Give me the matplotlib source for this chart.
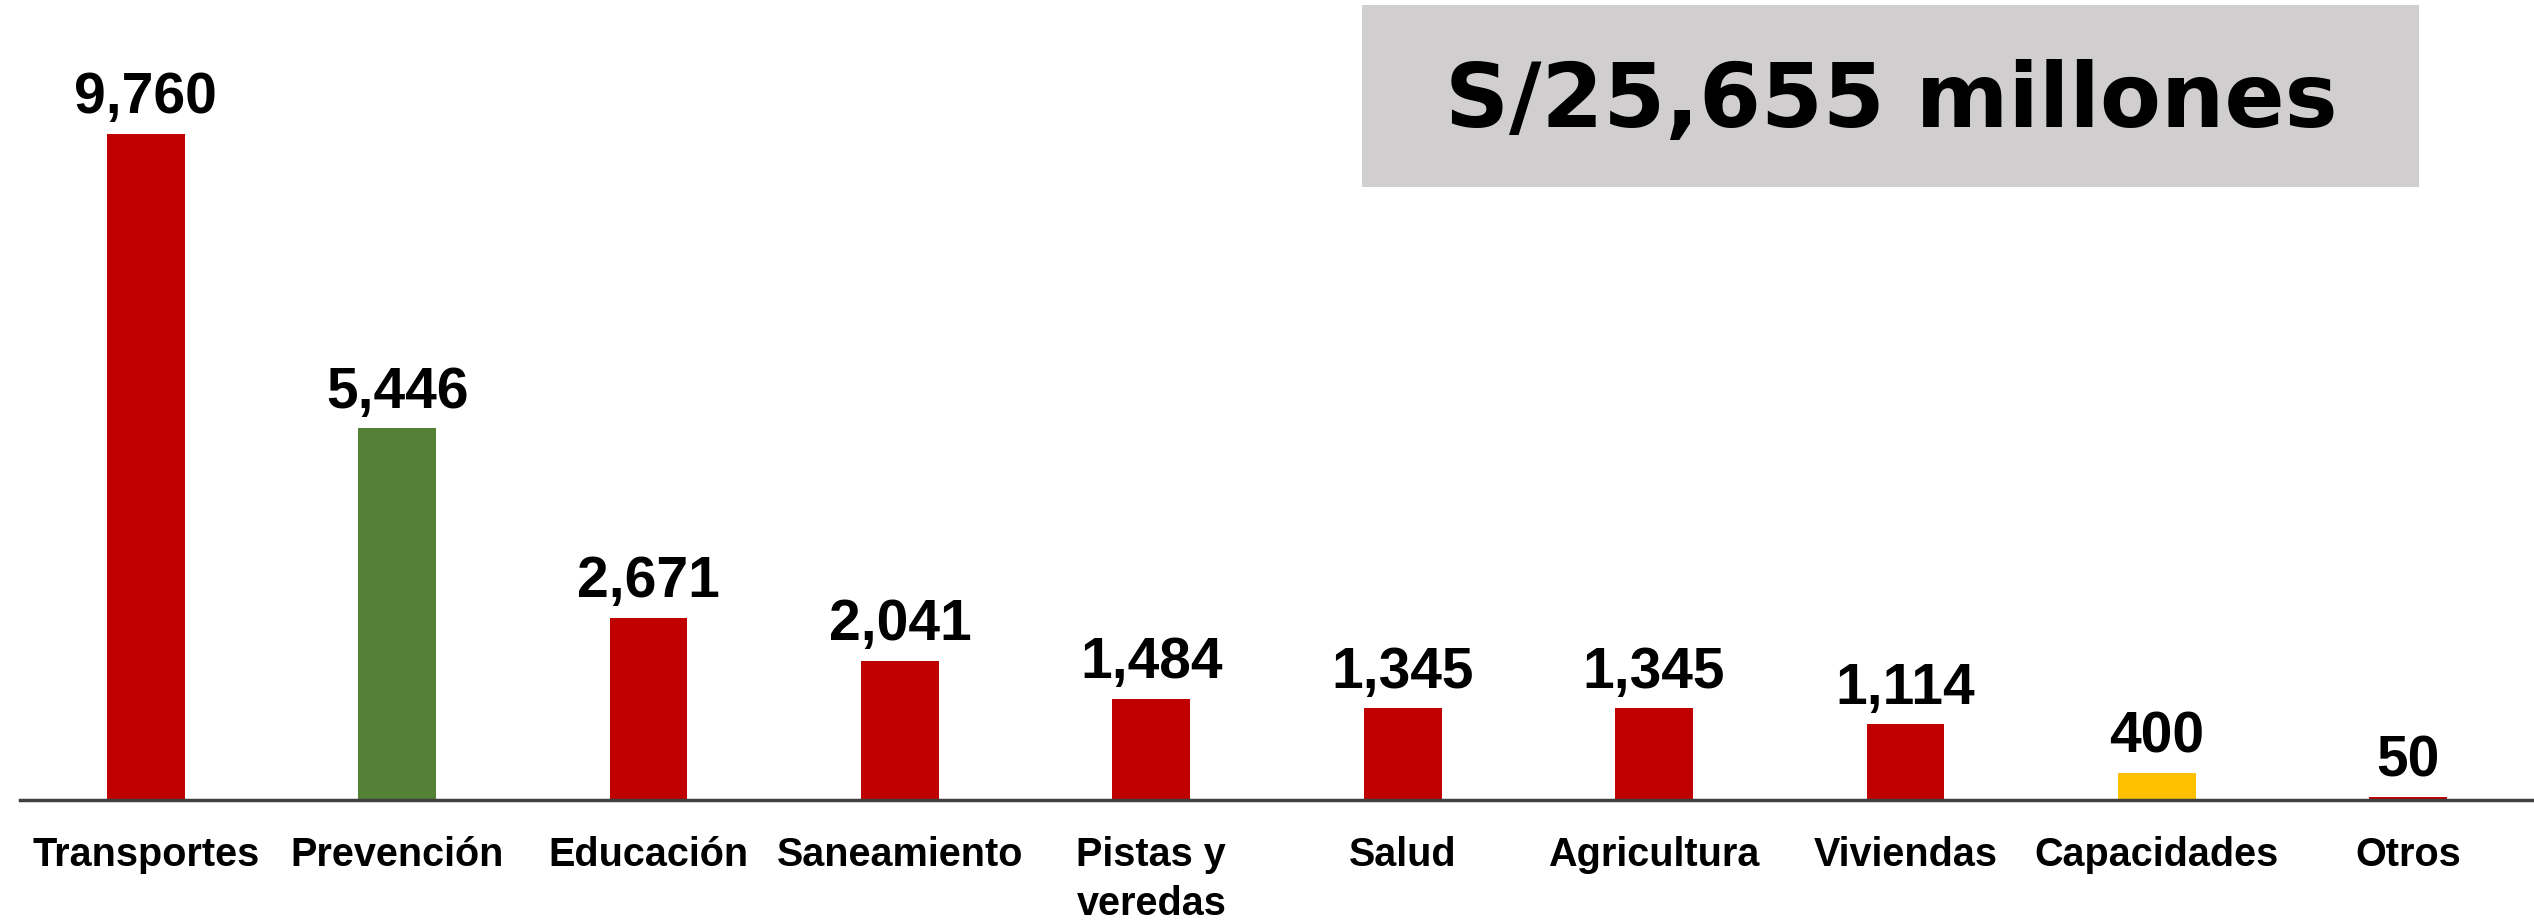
import matplotlib.pyplot as plt
from matplotlib.patches import Rectangle

# data
sectores = ["Transportes", "Prevención", "Educación", "Saneamiento", "Pistas y\nveredas",
            "Salud", "Agricultura", "Viviendas", "Capacidades", "Otros"]
montos = [9760, 5446, 2671, 2041, 1484, 1345, 1345, 1114, 400, 50]
total_txt = "S/25,655 millones"

rojo, verde, amarillo = "#C00000", "#538135", "#FFC000"
colores = [rojo, verde, rojo, rojo, rojo, rojo, rojo, rojo, amarillo, rojo]

fig = plt.figure(figsize=(25.34, 9.23), dpi=100)
ax = fig.add_axes([20 / 2534, 123 / 923, 1 - 20 / 2534, 800 / 923])

x = range(len(sectores))
bars = ax.bar(x, montos, width=0.31, color=colores)

for b, v in zip(bars, montos):
    ax.text(b.get_x() + b.get_width() / 2, v + 300, f"{v:,}",
            ha="center", va="baseline", fontsize=41, fontweight="bold",
            family="Liberation Sans")

ax.set_xlim(-0.5, 9.5)
ax.set_ylim(0, 11723)
ax.set_xticks(list(x))
ax.set_xticklabels(sectores, fontsize=28.5, fontweight="bold", family="Liberation Sans",
                   va="top", linespacing=1.35)
ax.tick_params(axis="x", length=0, pad=26)
ax.set_yticks([])
for s in ["top", "right", "left"]:
    ax.spines[s].set_visible(False)
ax.spines["bottom"].set_color("#404040")
ax.spines["bottom"].set_linewidth(2.5)

# total box
fig.patches.append(Rectangle((1362 / 2534, 1 - 187 / 923), 1057 / 2534, 182 / 923,
                             transform=fig.transFigure, facecolor="#D0CECE",
                             edgecolor="none", zorder=0))
fig.text(1891 / 2534, 1 - 102 / 923, total_txt, ha="center", va="center",
         fontsize=64, fontweight="bold", family="DejaVu Sans")

fig.savefig("out.png", dpi=100)
